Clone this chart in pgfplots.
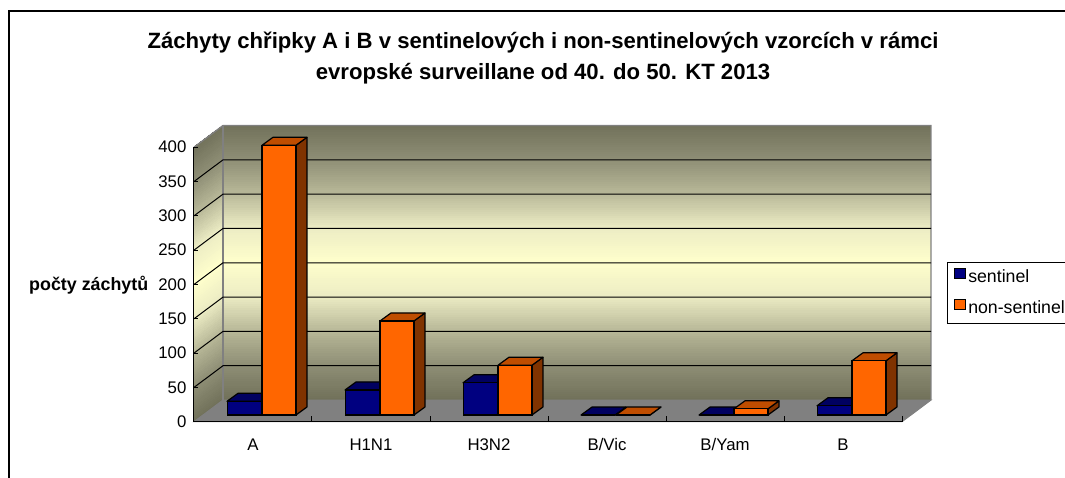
\documentclass[border=0pt]{standalone}
\usepackage{fontspec}
\setmainfont{Liberation Sans}
\usepackage{pgfplots}
\pgfplotsset{compat=1.18}
\usepgfplotslibrary{patchplots}
\definecolor{navybar}{RGB}{0,0,128}
\definecolor{navytop}{RGB}{0,0,96}
\definecolor{navyside}{RGB}{0,0,64}
\definecolor{orangebar}{RGB}{255,102,0}
\definecolor{orangetop}{RGB}{191,77,0}
\definecolor{orangeside}{RGB}{128,51,0}
\definecolor{floorgray}{RGB}{128,128,128}
\pgfplotsset{colormap={wall}{rgb255=(113,113,90) rgb255=(142,142,117) rgb255=(184,184,152) rgb255=(236,236,196) rgb255=(255,255,204)}}
% side and top faces of one 3-D bar: left edge (in categories), value, colours
\newcommand\barfaces[4]{%
  \pgfmathsetmacro\xl{#1}%
  \pgfmathsetmacro\xr{#1+0.288}%
  \pgfmathsetmacro\xb{#1+0.288+0.0932}%
  \pgfmathsetmacro\xlb{#1+0.0932}%
  \pgfmathsetmacro\yt{9.77+#2}%
  \pgfmathsetmacro\yk{9.77+#2+11.66}%
  \addplot[fill=#4,draw=black,line width=0.9pt,line join=round,forget plot]
    coordinates {(\xr,9.77) (\xb,21.43) (\xb,\yk) (\xr,\yt)} --cycle;
  \addplot[fill=#3,draw=black,line width=0.9pt,line join=round,forget plot]
    coordinates {(\xl,\yt) (\xr,\yt) (\xb,\yk) (\xlb,\yk)} --cycle;
}
\begin{document}
\begin{tikzpicture}
\begin{axis}[
  at={(145.5pt,42.2pt)}, anchor=south west,
  scale only axis, width=531pt, height=205.9pt,
  xmin=0, xmax=6, ymin=0, ymax=400,
  clip=false, axis on top,
  axis x line*=bottom, axis y line*=left,
  axis line style={line width=0.75pt,black},
  xtick={0.5,1.5,2.5,3.5,4.5,5.5},
  xticklabels={A,H1N1,H3N2,B/Vic,B/Yam,B},
  minor xtick={0,1,2,3,4,5,6},
  major x tick style={draw=none},
  minor tick length=4.5pt, major tick length=3pt,
  tick style={black,line width=0.75pt},
  ytick={0,50,100,150,200,250,300,350,400},
  tick label style={font=\fontsize{12.6}{14}\selectfont},
  xticklabel style={anchor=base,yshift=-21.5pt},
  yticklabel style={xshift=-2.2pt},
  /pgf/number format/assume math mode=true,
  colormap name=wall, point meta min=0, point meta max=1,
  title={Záchyty chřipky A i B v sentinelových i non-sentinelových vzorcích v rámci\\evropské surveillane od 40. do 50. KT 2013},
  every axis title/.style={at={(axis cs:2.958,530)},anchor=center,align=center,
    font=\bfseries\fontsize{16.6}{23.5}\selectfont},
  ylabel={počty záchytů},
  every axis y label/.style={at={(axis cs:-0.385,199)},anchor=east,inner sep=0pt,
    font=\bfseries\fontsize{13.4}{15}\selectfont},
  legend style={at={(axis cs:6.381,232.4)},anchor=north west,draw=black,
    line width=0.75pt,font=\fontsize{13.3}{15}\selectfont,inner xsep=5pt,inner ysep=3.5pt,
    /tikz/every even column/.append style={column sep=3pt},
    row sep=8pt},
  legend cell align=left,
]
% side wall and back wall
\addplot[patch,patch type=bilinear,shader=interp,point meta=explicit,forget plot]
  coordinates {
  (0,0)[0] (0.2458,31.6)[0] (0.2458,231.6)[1] (0,200)[1]
  (0,200)[1] (0.2458,231.6)[1] (0.2458,431.6)[0] (0,400)[0]
  (0.2458,31.6)[0] (6.2458,31.6)[0] (6.2458,231.6)[1] (0.2458,231.6)[1]
  (0.2458,231.6)[1] (6.2458,231.6)[1] (6.2458,431.6)[0] (0.2458,431.6)[0]
  };
% floor
\addplot[fill=floorgray,draw=floorgray,forget plot,line width=0.75pt]
  coordinates {(0,0) (6,0) (6.2458,31.6) (0.2458,31.6)} --cycle;
% wall edges
\addplot[draw=floorgray,line width=1pt,forget plot]
  coordinates {(0,400) (0.2458,431.6) (6.2458,431.6) (6.2458,31.6)};
\addplot[draw=floorgray,line width=1pt,forget plot]
  coordinates {(0.2458,431.6) (0.2458,31.6)};
% gridlines
\addplot[black,line width=0.75pt,forget plot] coordinates {(0,50) (0.2458,81.6) (6.2458,81.6)};
\addplot[black,line width=0.75pt,forget plot] coordinates {(0,100) (0.2458,131.6) (6.2458,131.6)};
\addplot[black,line width=0.75pt,forget plot] coordinates {(0,150) (0.2458,181.6) (6.2458,181.6)};
\addplot[black,line width=0.75pt,forget plot] coordinates {(0,200) (0.2458,231.6) (6.2458,231.6)};
\addplot[black,line width=0.75pt,forget plot] coordinates {(0,250) (0.2458,281.6) (6.2458,281.6)};
\addplot[black,line width=0.75pt,forget plot] coordinates {(0,300) (0.2458,331.6) (6.2458,331.6)};
\addplot[black,line width=0.75pt,forget plot] coordinates {(0,350) (0.2458,381.6) (6.2458,381.6)};
% sentinel
\barfaces{0.28}{20}{navytop}{navyside}
\barfaces{1.28}{36.5}{navytop}{navyside}
\barfaces{2.28}{47}{navytop}{navyside}
\barfaces{3.28}{0}{navytop}{navyside}
\barfaces{4.28}{0}{navytop}{navyside}
\barfaces{5.28}{13.5}{navytop}{navyside}
\addplot[ybar,bar width=25.5pt,bar shift=-6.4pt,yshift=5.03pt,fill=navybar,draw=black,line width=0.9pt,
  legend image code/.code={\draw[fill=navybar,draw=black,line width=0.6pt] (0pt,-6pt) rectangle (8pt,2pt);}]
  coordinates {(0.5,20) (1.5,36.5) (2.5,47) (3.5,0) (4.5,0) (5.5,13.5)};
\addlegendentry{sentinel}
% non-sentinel
\barfaces{0.576}{393}{orangetop}{orangeside}
\barfaces{1.576}{137}{orangetop}{orangeside}
\barfaces{2.576}{72.5}{orangetop}{orangeside}
\barfaces{3.576}{0}{orangetop}{orangeside}
\barfaces{4.576}{9}{orangetop}{orangeside}
\barfaces{5.576}{79}{orangetop}{orangeside}
\addplot[ybar,bar width=25.5pt,bar shift=19.5pt,yshift=5.03pt,fill=orangebar,draw=black,line width=0.9pt,
  legend image code/.code={\draw[fill=orangebar,draw=black,line width=0.6pt] (0pt,-6pt) rectangle (8pt,2pt);}]
  coordinates {(0.5,393) (1.5,137) (2.5,72.5) (3.5,0) (4.5,9) (5.5,79)};
\addlegendentry{non-sentinel}
\end{axis}
\draw[black,line width=1.5pt] (6.75pt,-3pt) -- (6.75pt,350pt) -- (802pt,350pt);
\pgfresetboundingbox
\path[use as bounding box] (0pt,0pt) rectangle (798.75pt,358.5pt);
\end{tikzpicture}
\end{document}
